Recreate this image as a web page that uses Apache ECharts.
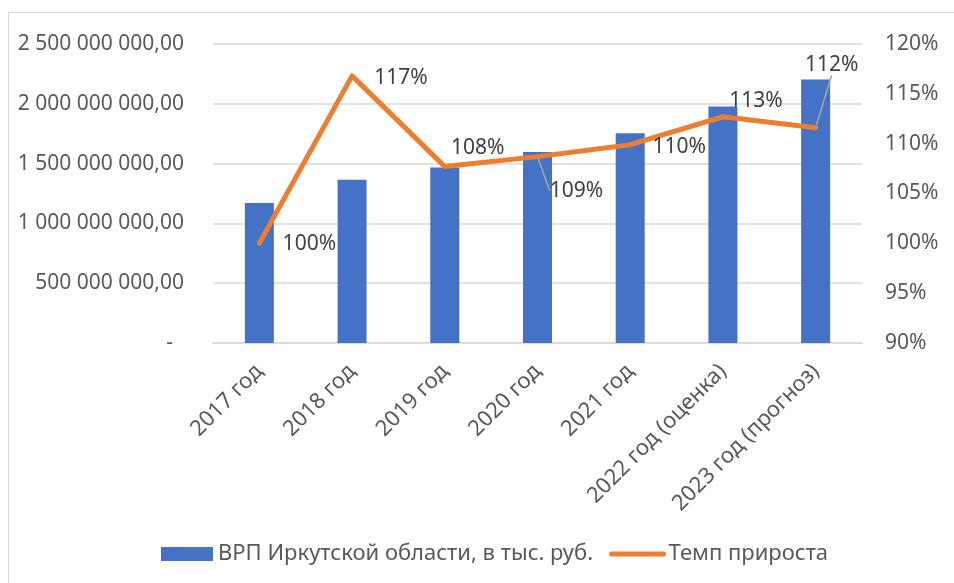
<!DOCTYPE html>
<html>
<head>
<meta charset="utf-8">
<script src="https://cdn.jsdelivr.net/npm/echarts@6/dist/echarts.min.js"></script>
<style>
  html, body { margin: 0; padding: 0; background: #fff; }
  #chart { width: 954px; height: 583px; }
</style>
</head>
<body>
<div id="chart"></div>
<script>
var years = ['2017 год', '2018 год', '2019 год', '2020 год', '2021 год', '2022 год (оценка)', '2023 год (прогноз)'];
var grp = [1170000000, 1365000000, 1468000000, 1597000000, 1753000000, 1977000000, 2203000000];
var growth = [100.0, 116.8, 107.7, 108.7, 109.9, 112.7, 111.6];
var barName = 'ВРП Иркутской области, в тыс. руб.';
var lineName = 'Темп прироста';

/* label offsets from each point, px */
var labelShift = [[50, 1], [49, 2], [33, -19], [39, 34], [49, 2], [33, -16], [16, -63]];
var withLeader = [3, 6];

var font = 'Noto Sans';
var grey = '#595959';
var rule = '#d9d9d9';

function money(v) {
  if (v === 0) return '-  ';
  var s = String(Math.round(v));
  s = s.replace(/\B(?=(\d{3})+(?!\d))/g, ' ');
  return s + ',00';
}

var lineData = growth.map(function (v, i) {
  var d = { value: v };
  if (withLeader.indexOf(i) >= 0) d.labelLine = { show: true };
  return d;
});

var chart = echarts.init(document.getElementById('chart'), null, { renderer: 'canvas' });
chart.setOption({
  animation: false,
  textStyle: { fontFamily: font },
  grid: { left: 213, right: 92, top: 44, bottom: 240 },
  legend: {
    left: 156, top: 538,
    itemWidth: 52, itemHeight: 14, itemGap: 16,
    textStyle: { fontFamily: font, fontSize: 22, color: grey },
    data: [
      { name: barName, icon: 'rect' },
      { name: lineName, itemStyle: { opacity: 0 }, lineStyle: { width: 5, cap: 'round', color: '#ED7D31' } }
    ]
  },
  graphic: [{
    type: 'polyline',
    shape: { points: [[8.5, 583], [8.5, 12.5], [954, 12.5]] },
    style: { stroke: rule, lineWidth: 1, fill: null }
  }],
  xAxis: {
    type: 'category',
    data: years,
    axisTick: { show: false },
    axisLine: { lineStyle: { color: rule, width: 1.5 } },
    axisLabel: { rotate: 45, margin: 25, fontSize: 22, color: grey, fontFamily: font, interval: 0 }
  },
  yAxis: [{
    type: 'value', min: 0, max: 2500000000, interval: 500000000,
    axisLine: { show: false }, axisTick: { show: false },
    splitLine: { lineStyle: { color: rule, width: 1.5 } },
    axisLabel: { formatter: money, fontSize: 21, color: grey, fontFamily: font, margin: 29 }
  }, {
    type: 'value', min: 90, max: 120, interval: 5,
    axisLine: { show: false }, axisTick: { show: false },
    splitLine: { show: false },
    axisLabel: { formatter: '{value}%', fontSize: 21, color: grey, fontFamily: font, margin: 23 }
  }],
  series: [{
    name: barName,
    type: 'bar',
    data: grp,
    barWidth: 29,
    itemStyle: { color: '#4472C4' }
  }, {
    name: lineName,
    type: 'line',
    yAxisIndex: 1,
    data: lineData,
    symbol: 'circle',
    symbolSize: 1,
    lineStyle: { color: '#ED7D31', width: 5, cap: 'round', join: 'round' },
    itemStyle: { color: '#ED7D31' },
    label: {
      show: true, position: 'inside',
      fontSize: 21, color: '#404040', fontFamily: font,
      formatter: function (p) { return Math.round(p.value) + '%'; }
    },
    labelLine: { show: false, lineStyle: { color: '#a6a6a6', width: 1.5 } },
    labelLayout: function (p) {
      var o = labelShift[p.dataIndex];
      return { dx: o[0], dy: o[1] };
    }
  }]
});
</script>
</body>
</html>
